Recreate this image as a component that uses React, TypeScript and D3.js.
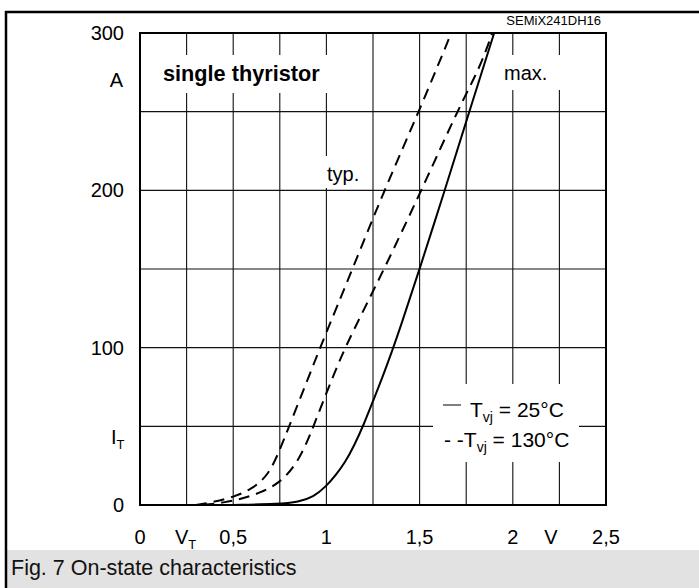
import * as d3 from 'd3'
import { useEffect, useRef } from 'react'

// axis ticks / labels
const voltTicks = [0, 0.5, 1, 1.5, 2, 2.5]
const voltLabels = ['0', '0,5', '1', '1,5', '2', '2,5']
const ampTicks = [0, 100, 200, 300]
const ampLabels = ['0', '100', '200', '300']
const voltGrid = [0, 0.25, 0.5, 0.75, 1, 1.25, 1.5, 1.75, 2, 2.25, 2.5]
const ampGrid = [0, 50, 100, 150, 200, 250, 300]

// curves (V, A)
const hotTypV = [0.3, 0.4, 0.5, 0.6, 0.69, 0.75, 0.8, 0.87, 0.93, 0.98, 1.14, 1.31, 1.5, 1.67]
const hotTypA = [0, 2, 5, 10, 19, 35, 50, 71, 89, 104, 150, 200, 251, 300]
const hotMaxV = [0.34, 0.45, 0.55, 0.65, 0.75, 0.84, 0.9, 0.93, 0.98, 1.04, 1.1, 1.2, 1.31, 1.51, 1.72, 1.82, 1.89]
const hotMaxA = [0, 1.5, 4, 8, 14, 26, 41, 50, 65, 83, 100, 124, 150, 200, 255, 277, 300]
const coldV = [0.5, 0.75, 0.85, 0.93, 1.0, 1.05, 1.1, 1.15, 1.2, 1.25, 1.3, 1.35, 1.4, 1.5, 1.635, 1.74, 1.9]
const coldA = [0, 0.6, 2, 5, 12, 19, 27, 38, 51, 66, 81, 97, 114, 150, 200, 240, 300]

const FONT = 'Liberation Sans, Arial, sans-serif'

const App = () => {
  const ref = useRef<HTMLDivElement>(null)

  useEffect(() => {
    if (!ref.current) return
    d3.select(ref.current).select('svg').remove()

    const W = 699
    const H = 588
    const left = 140
    const right = 606
    const top = 33
    const bottom = 505

    const svg = d3
      .select(ref.current)
      .append('svg')
      .attr('width', W)
      .attr('height', H)
      .style('position', 'absolute')
      .style('left', '0px')
      .style('top', '0px')
      .style('font-family', FONT)

    svg.append('rect').attr('width', W).attr('height', H).attr('fill', '#fff')

    const x = d3.scaleLinear().domain([0, 2.5]).range([left, right])
    const y = d3.scaleLinear().domain([0, 300]).range([bottom, top])

    // outer frame + caption band
    svg.append('rect').attr('x', 7).attr('y', 550).attr('width', W - 7).attr('height', H - 550).attr('fill', '#e2e2e2')
    svg.append('line').attr('x1', 5).attr('x2', W).attr('y1', 12).attr('y2', 12).attr('stroke', '#000').attr('stroke-width', 2.5)
    svg.append('line').attr('x1', 6).attr('x2', 6).attr('y1', 11).attr('y2', H).attr('stroke', '#000').attr('stroke-width', 2.5)
    svg.append('text').attr('x', 11).attr('y', 575).attr('font-size', 21.5).attr('fill', '#111').text('Fig. 7 On-state characteristics')

    // grid
    const grid = svg.append('g').attr('stroke', '#111').attr('stroke-width', 1.1)
    grid.selectAll('line.v').data(voltGrid).enter().append('line')
      .attr('x1', (d) => x(d)).attr('x2', (d) => x(d)).attr('y1', top).attr('y2', bottom)
    grid.selectAll('line.h').data(ampGrid).enter().append('line')
      .attr('x1', left).attr('x2', right).attr('y1', (d) => y(d)).attr('y2', (d) => y(d))

    // white patches behind the labels
    const patches = [
      [150, 55, 185, 38],
      [498, 55, 77, 35],
      [320, 156, 52, 32],
      [433, 384, 146, 78],
    ]
    svg.selectAll('rect.patch').data(patches).enter().append('rect')
      .attr('x', (d) => d[0]).attr('y', (d) => d[1]).attr('width', (d) => d[2]).attr('height', (d) => d[3])
      .attr('fill', '#fff')

    // plot frame
    svg.append('rect').attr('x', left).attr('y', top).attr('width', right - left).attr('height', bottom - top)
      .attr('fill', 'none').attr('stroke', '#000').attr('stroke-width', 2)

    // curves
    const line = d3.line<[number, number]>()
      .x((d) => x(d[0]))
      .y((d) => y(d[1]))
      .curve(d3.curveBasis)
    const curves = [
      { v: hotTypV, a: hotTypA, dash: '11,7' },
      { v: hotMaxV, a: hotMaxA, dash: '11,7' },
      { v: coldV, a: coldA, dash: null },
    ]
    curves.forEach((c) => {
      svg.append('path')
        .datum(c.v.map((v, i) => [v, c.a[i]] as [number, number]))
        .attr('d', line)
        .attr('fill', 'none')
        .attr('stroke', '#000')
        .attr('stroke-width', 2)
        .attr('stroke-dasharray', c.dash)
    })

    // x labels
    svg.selectAll('text.xl').data(voltTicks).enter().append('text')
      .attr('x', (d) => x(d)).attr('y', 544).attr('text-anchor', 'middle').attr('font-size', 20)
      .text((d, i) => voltLabels[i])
    const vt = svg.append('text').attr('x', 175).attr('y', 544).attr('font-size', 20)
    vt.append('tspan').text('V')
    vt.append('tspan').attr('dy', 5).attr('font-size', 13).text('T')
    svg.append('text').attr('x', 551).attr('y', 544).attr('text-anchor', 'middle').attr('font-size', 20).text('V')

    // y labels
    svg.selectAll('text.yl').data(ampTicks).enter().append('text')
      .attr('x', 124).attr('y', (d) => y(d) + 7).attr('text-anchor', 'end').attr('font-size', 20)
      .text((d, i) => ampLabels[i])
    svg.append('text').attr('x', 123).attr('y', 87).attr('text-anchor', 'end').attr('font-size', 20).text('A')
    const it = svg.append('text').attr('x', 111).attr('y', 444).attr('font-size', 20)
    it.append('tspan').text('I')
    it.append('tspan').attr('dy', 5).attr('font-size', 13).text('T')

    // annotations
    svg.append('text').attr('x', 163).attr('y', 81).attr('font-size', 21.7).attr('font-weight', 'bold').text('single thyristor')
    svg.append('text').attr('x', 504).attr('y', 80).attr('font-size', 20).text('max.')
    svg.append('text').attr('x', 327).attr('y', 181).attr('font-size', 20).text('typ.')
    svg.append('text').attr('x', 601).attr('y', 25).attr('text-anchor', 'end').attr('font-size', 13).text('SEMiX241DH16')

    // legend
    svg.append('line').attr('x1', 443).attr('x2', 461).attr('y1', 405).attr('y2', 405).attr('stroke', '#000').attr('stroke-width', 1)
    const l1 = svg.append('text').attr('x', 470).attr('y', 417).attr('font-size', 21)
    l1.append('tspan').text('T')
    l1.append('tspan').attr('dy', 5).attr('font-size', 14).text('vj')
    l1.append('tspan').attr('dy', -5).text(' =  25°C')
    const l2 = svg.append('text').attr('x', 444).attr('y', 447).attr('font-size', 21)
    l2.append('tspan').text('- -T')
    l2.append('tspan').attr('dy', 5).attr('font-size', 14).text('vj')
    l2.append('tspan').attr('dy', -5).text(' = 130°C')
  }, [])

  return (
    <div>
      <div ref={ref} />
    </div>
  )
}

export default App
